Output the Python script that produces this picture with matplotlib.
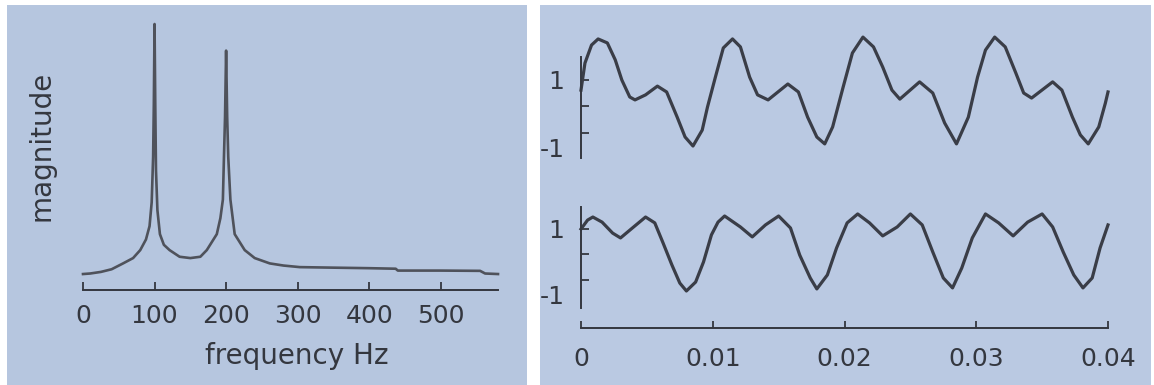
import matplotlib
matplotlib.use("Agg")
import matplotlib.pyplot as plt
from matplotlib.patches import Rectangle
import matplotlib.transforms as mtransforms

# ---------------- data ----------------
freq_hz = [0, 10, 25, 40, 56, 70, 80, 88, 93, 96, 98, 99, 100, 101, 102, 104,
           107.5, 113, 121, 135, 150, 164, 173, 180, 187, 192, 195.5, 197,
           198.5, 200, 201.5, 203, 206, 212, 226, 240, 261, 280, 303, 350,
           400, 437, 440, 500, 555, 562, 580]
magnitude = [0.06, 0.062, 0.068, 0.078, 0.10, 0.12, 0.15, 0.19, 0.24, 0.33,
             0.50, 0.70, 1.00, 0.70, 0.45, 0.30, 0.21, 0.17, 0.15, 0.125,
             0.12, 0.125, 0.15, 0.18, 0.21, 0.27, 0.34, 0.50, 0.65, 0.90,
             0.65, 0.50, 0.34, 0.21, 0.15, 0.12, 0.10, 0.092, 0.086, 0.084,
             0.082, 0.08, 0.073, 0.073, 0.072, 0.062, 0.06]
freq_ticks = [0, 100, 200, 300, 400, 500]

t_top = [0.0000, 0.0003, 0.0008, 0.0013, 0.0020, 0.0026, 0.0031, 0.0037,
         0.0041, 0.0049, 0.0058, 0.0065, 0.0073, 0.0079, 0.0085, 0.0092,
         0.0096, 0.0102, 0.0108, 0.0115, 0.0121, 0.0128, 0.0134, 0.0142,
         0.0157, 0.0165, 0.0172, 0.0179, 0.0185, 0.0191, 0.0199, 0.0206,
         0.0214, 0.0222, 0.0229, 0.0236, 0.0242, 0.0257, 0.0267, 0.0276,
         0.0285, 0.0294, 0.0301, 0.0307, 0.0314, 0.0322, 0.0330, 0.0336,
         0.0342, 0.0358, 0.0365, 0.0373, 0.0379, 0.0385, 0.0393, 0.0398,
         0.0400]
x_top = [0.60, 1.62, 2.30, 2.53, 2.38, 1.74, 0.98, 0.34,
         0.23, 0.42, 0.75, 0.53, -0.42, -1.17, -1.51, -0.91,
         -0.04, 1.09, 2.19, 2.53, 2.23, 1.09, 0.42, 0.23,
         0.83, 0.53, -0.42, -1.17, -1.43, -0.79, 0.72, 2.00,
         2.60, 2.23, 1.47, 0.60, 0.26, 0.91, 0.49, -0.64,
         -1.43, -0.42, 1.09, 2.11, 2.60, 2.23, 1.25, 0.49,
         0.30, 0.91, 0.60, -0.42, -1.09, -1.43, -0.79, 0.11,
         0.53]

t_bot = [0.0000, 0.0005, 0.0009, 0.0016, 0.0024, 0.0030, 0.0039, 0.0049,
         0.0056, 0.0062, 0.0069, 0.0075, 0.0080, 0.0087, 0.0093, 0.0099,
         0.0104, 0.0109, 0.0121, 0.0130, 0.0140, 0.0150, 0.0159, 0.0166,
         0.0174, 0.0179, 0.0187, 0.0194, 0.0202, 0.0210, 0.0219, 0.0229,
         0.0240, 0.0250, 0.0259, 0.0267, 0.0275, 0.0282, 0.0289, 0.0297,
         0.0307, 0.0317, 0.0328, 0.0339, 0.0350, 0.0358, 0.0366, 0.0374,
         0.0381, 0.0388, 0.0394, 0.0400]
x_bot = [0.98, 1.33, 1.45, 1.25, 0.82, 0.63, 1.02, 1.45,
         1.22, 0.47, -0.43, -1.14, -1.45, -1.10, -0.31, 0.75,
         1.25, 1.49, 1.06, 0.67, 1.14, 1.49, 1.02, -0.04,
         -0.94, -1.37, -0.82, 0.24, 1.22, 1.57, 1.22, 0.71,
         1.06, 1.57, 1.14, 0.08, -0.94, -1.33, -0.55, 0.63,
         1.57, 1.22, 0.71, 1.25, 1.57, 1.06, 0.08, -0.82,
         -1.33, -0.94, 0.24, 1.14]
time_ticks = [0, 0.01, 0.02, 0.03, 0.04]
time_labels = ["0", "0.01", "0.02", "0.03", "0.04"]
amp_ticks = [1, 0, -1]
amp_labels = ["1", "", "-1"]

# ---------------- style ----------------
W, H = 1154, 385
plt.rcParams['font.family'] = ['DejaVu Sans']
INK = "#34373f"
TRACE = "#3a3d47"
SPEC = "#4f525b"
BG_L = "#b6c6df"
BG_R = "#bac9e2"

fig = plt.figure(figsize=(W / 100, H / 100), dpi=100, facecolor="white")

def fx(px):
    return px / W

def fy(py):
    return 1 - py / H

# photo panel backgrounds
fig.patches.append(Rectangle((fx(7), 0), fx(527) - fx(7), fy(5), transform=fig.transFigure,
                             facecolor=BG_L, edgecolor="none", zorder=-10))
fig.patches.append(Rectangle((fx(540), 0), fx(1151) - fx(540), fy(5), transform=fig.transFigure,
                             facecolor=BG_R, edgecolor="none", zorder=-10))

# ---------------- left: spectrum ----------------
axL = fig.add_axes([fx(83), fy(290), fx(498) - fx(83), fy(18.7) - fy(290)])
axL.set_facecolor("none")
axL.plot(freq_hz, magnitude, color=SPEC, lw=1.9, solid_joinstyle="round", clip_on=False)
axL.set_xlim(0, 580)
axL.set_ylim(0, 1.02)
for s in ("top", "right", "left"):
    axL.spines[s].set_visible(False)
axL.spines["bottom"].set_color(INK)
axL.spines["bottom"].set_linewidth(1.4)
axL.set_yticks([])
axL.set_xticks(freq_ticks)
axL.set_xticklabels([str(v) for v in freq_ticks])
axL.tick_params(axis="x", direction="in", length=6, width=1.3, color=INK,
                labelsize=18, labelcolor=INK, pad=10)
fig.text(fx(297), fy(356), "frequency Hz", ha="center", va="center", fontsize=20, color=INK)
fig.text(fx(42), fy(146), "magnitude", ha="center", va="center", rotation=90,
         fontsize=20, color=INK)

# ---------------- right: time signals ----------------
x0, x1 = fx(581), fx(1108)

def signal_axes(top_px, bot_px, ref_px, ppu, spine_top_px, spine_bot_px, t, x):
    ylo = (ref_px - bot_px) / ppu
    yhi = (ref_px - top_px) / ppu
    ax = fig.add_axes([x0, fy(bot_px), x1 - x0, fy(top_px) - fy(bot_px)])
    ax.set_facecolor("none")
    ax.plot(t, x, color=TRACE, lw=2.3, solid_joinstyle="round", clip_on=False)
    ax.set_xlim(0, 0.04)
    ax.set_ylim(ylo, yhi)
    for s in ("top", "right", "bottom"):
        ax.spines[s].set_visible(False)
    ax.spines["left"].set_bounds((ref_px - spine_bot_px) / ppu, (ref_px - spine_top_px) / ppu)
    ax.spines["left"].set_color(INK)
    ax.spines["left"].set_linewidth(1.4)
    ax.set_xticks([])
    ax.set_yticks(amp_ticks)
    ax.set_yticklabels(amp_labels)
    ax.tick_params(axis="y", direction="in", length=6, width=1.3, color=INK,
                   labelsize=18, labelcolor=INK, pad=12)
    # the "-1" label sits lower than its tick in the original figure
    lab = ax.get_yticklabels()[2]
    lab.set_transform(lab.get_transform() +
                      mtransforms.ScaledTranslation(0, -15 / 100, fig.dpi_scale_trans))
    return ax

axT = signal_axes(34.5, 159, 106, 26.5, 57, 158, t_top, x_top)
axB = signal_axes(205.5, 310, 254, 25.5, 207, 308, t_bot, x_bot)

# shared time axis
axX = fig.add_axes([x0, fy(328), x1 - x0, 0.001])
axX.set_facecolor("none")
axX.set_xlim(0, 0.04)
for s in ("top", "right", "left"):
    axX.spines[s].set_visible(False)
axX.spines["bottom"].set_color(INK)
axX.spines["bottom"].set_linewidth(1.4)
axX.set_yticks([])
axX.set_xticks(time_ticks)
axX.set_xticklabels(time_labels)
axX.tick_params(axis="x", direction="in", length=5, width=1.3, color=INK,
                labelsize=18, labelcolor=INK, pad=14)

fig.savefig("out.png", dpi=100, facecolor="white")
